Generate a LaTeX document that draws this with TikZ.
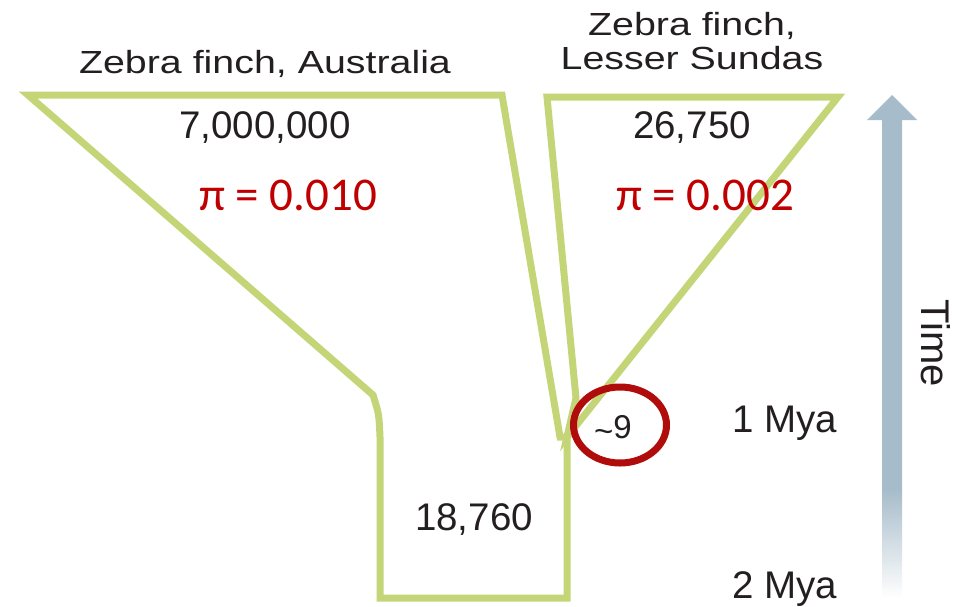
\documentclass[tikz,border=0pt]{standalone}
\usepackage{fontspec}
\usepackage{graphicx}
\setmainfont{Liberation Sans}
\newfontfamily\calib{Carlito}
\definecolor{finch}{RGB}{196,213,120}
\definecolor{timec}{RGB}{167,188,202}
\definecolor{pired}{RGB}{192,0,0}
\definecolor{circred}{RGB}{176,12,12}
\definecolor{ink}{RGB}{35,31,32}
\begin{document}
\begin{tikzpicture}[x=1pt,y=-1pt,
  popline/.style={draw=finch,line width=7pt,line join=miter},
  lbl/.style={text=ink,font=\fontsize{38.5}{40}\selectfont,inner sep=0pt,anchor=base},
  head/.style={text=ink,font=\fontsize{32}{34}\selectfont,inner sep=0pt,anchor=base},
  pilbl/.style={text=pired,font=\calib\fontsize{47}{50}\selectfont,inner sep=0pt,anchor=base}]
\useasboundingbox (0,0) rectangle (967,606);
% population outlines
\draw[popline] (373,395) -- (28,95) -- (502,95) -- (560,437) -- (567,437) -- (567,598)
  -- (380,598) -- (380,437) .. controls (379,414) .. (373,395) -- cycle;
\draw[popline] (567,437) -- (576,398) -- (547,97) -- (838,97) -- cycle;
% time arrow
\fill[timec] (882,120) -- (867,120) -- (892,95) -- (917,120) -- (902,120) -- (902,490.5) -- (882,490.5) -- cycle;
\shade[top color=timec,bottom color=white] (882,490) rectangle (902,598);
% labels
\node[head] (ausT) at (265,73) {\scalebox{1.23}[1]{Zebra finch, Australia}};
\node[head] (lsT1) at (692,35) {\scalebox{1.23}[1]{Zebra finch,}};
\node[head] (lsT2) at (692,69) {\scalebox{1.23}[1]{Lesser Sundas}};
\node[lbl] (ausN) at (265,138) {7,000,000};
\node[lbl] (lsN) at (692,138) {26,750};
\node[pilbl] (ausPi) at (288,210) {π = 0.010};
\node[pilbl] (lsPi) at (705,210) {π = 0.002};
\node[lbl] (ancN) at (474,530) {18,760};
\node[lbl,font=\fontsize{33}{35}\selectfont] (found) at (613,438) {\raisebox{-4.5pt}{\textasciitilde}9};
\node[lbl] (mya1) at (785,432) {1 Mya};
\node[lbl] (mya2) at (785,598) {2 Mya};
\node[text=ink,font=\fontsize{40}{42}\selectfont,inner sep=0pt,rotate=-90] (time) at (935.5,343) {Time};
% highlight
\draw[circred,line width=7pt] (620,425) ellipse [x radius=46.5pt,y radius=38pt];
\end{tikzpicture}
\end{document}
